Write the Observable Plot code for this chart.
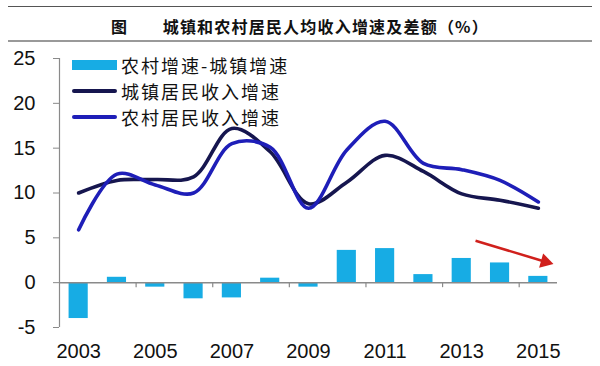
<!DOCTYPE html>
<html>
<head>
<meta charset="utf-8">
<script src="https://cdn.jsdelivr.net/npm/d3@7"></script>
<script src="https://cdn.jsdelivr.net/npm/@observablehq/plot@0.6"></script>
<style>
  html, body { margin: 0; padding: 0; background: #fff; }
  #wrap { position: relative; width: 600px; height: 366px; overflow: hidden; font-family: "Liberation Sans", Arial, sans-serif; }
  .rule-top { position: absolute; left: 8px; width: 584px; top: 6px; height: 0; border-top: 1px solid #555; }
  .rule-bot { position: absolute; left: 8px; width: 584px; top: 40px; height: 0; border-top: 2px solid #999; }
  #title { position: absolute; left: 0; width: 600px; top: 15px; text-align: center; font-family: "Noto Sans CJK SC", sans-serif; font-size: 16px; font-weight: 600; letter-spacing: 1.2px; color: #111; line-height: 22px; }
  #chart { position: absolute; left: 0; top: 44px; }
  .leg { position: absolute; font-family: "Noto Sans CJK SC", sans-serif; font-size: 18px; letter-spacing: 2px; color: #111; line-height: 18px; white-space: nowrap; }
  .sw { position: absolute; }
</style>
</head>
<body>
<div id="wrap">
  <div class="rule-top"></div>
  <div id="title"></div>
  <div class="rule-bot"></div>
  <div id="chart"></div>
  <div id="legend"></div>
</div>
<script>
// ---- data ----
const years = [2003, 2004, 2005, 2006, 2007, 2008, 2009, 2010, 2011, 2012, 2013, 2014, 2015];
const diffGrowth = [-4.0, 0.6, -0.5, -1.8, -1.7, 0.5, -0.5, 3.6, 3.8, 0.9, 2.7, 2.2, 0.7];
const urbanGrowth = [10.0, 11.4, 11.5, 11.8, 17.2, 14.6, 8.8, 11.2, 14.2, 12.4, 9.9, 9.2, 8.3];
const ruralGrowth = [5.9, 12.1, 10.9, 10.0, 15.5, 15.1, 8.3, 14.8, 18.0, 13.3, 12.6, 11.4, 9.0];
const yTicks = [-5, 0, 5, 10, 15, 20, 25];
const xLabelYears = [2003, 2005, 2007, 2009, 2011, 2013, 2015];
const xTickBoundaries = [2004.5, 2006.5, 2008.5, 2010.5, 2012.5, 2014.5];
const xDomain = [2002.5, 2015.5];
const yDomain = [-5, 25];
const trendArrow = [{x1: 2013.36, y1: 4.68, x2: 2015.18, y2: 2.34}];
const titleText = "图\u3000\u3000城镇和农村居民人均收入增速及差额（%）";
const seriesNames = ["农村增速-城镇增速", "城镇居民收入增速", "农村居民收入增速"];

const colors = { bar: "#17ace4", urban: "#16164f", rural: "#1e1eb8", axis: "#8a8a8a", arrow: "#d0201c" };

const table = years.map((year, i) => ({ year, diff: diffGrowth[i], urban: urbanGrowth[i], rural: ruralGrowth[i] }));

document.getElementById("title").textContent = titleText;

const chart = Plot.plot({
  width: 600,
  height: 322,
  marginLeft: 59,
  marginRight: 43,
  marginTop: 14,
  marginBottom: 39,
  style: { fontFamily: "'Liberation Sans', Arial, sans-serif", fontSize: "20px", color: "#111", background: "transparent" },
  x: { type: "linear", domain: xDomain },
  y: { domain: yDomain },
  marks: [
    Plot.axisY(yTicks, { tickSize: 6, tickPadding: 18, stroke: colors.axis, fill: "#111", fontSize: 20, label: null, tickFormat: d => String(d) }),
    Plot.axisX(xLabelYears, { tickSize: 0, tickPadding: 16, fill: "#111", fontSize: 20, label: null, tickFormat: d => String(d) }),
    Plot.ruleX([xDomain[0]], { y1: yDomain[0], y2: yDomain[1], stroke: colors.axis, strokeWidth: 1.2 }),
    Plot.rectY(table, { x1: d => d.year - 0.25, x2: d => d.year + 0.25, y1: 0, y2: "diff", fill: colors.bar }),
    Plot.ruleY([0], { stroke: colors.axis, strokeWidth: 1.5 }),
    Plot.ruleX(xTickBoundaries, { y1: 0, y2: 0, insetBottom: -5, stroke: colors.axis, strokeWidth: 1.2 }),
    Plot.line(table, { x: "year", y: "urban", curve: "catmull-rom", stroke: colors.urban, strokeWidth: 3.6 }),
    Plot.line(table, { x: "year", y: "rural", curve: "catmull-rom", stroke: colors.rural, strokeWidth: 3.6 }),
    Plot.link(trendArrow, { x1: "x1", y1: "y1", x2: "x2", y2: "y2", stroke: colors.arrow, strokeWidth: 2.5 }),
    Plot.dot(trendArrow, { x: "x2", y: "y2", symbol: "triangle", r: 5.5, rotate: 106, fill: colors.arrow, stroke: "none" })
  ]
});
document.getElementById("chart").appendChild(chart);

// legend
const legend = document.getElementById("legend");
const legRows = [
  { name: seriesNames[0], kind: "bar", color: colors.bar, cy: 65 },
  { name: seriesNames[1], kind: "line", color: colors.urban, cy: 91 },
  { name: seriesNames[2], kind: "line", color: colors.rural, cy: 117 }
];
for (const r of legRows) {
  const sw = document.createElement("div");
  sw.className = "sw";
  sw.style.left = "72px";
  sw.style.width = "45px";
  if (r.kind === "bar") { sw.style.top = (r.cy - 5) + "px"; sw.style.height = "10px"; }
  else { sw.style.top = (r.cy - 2) + "px"; sw.style.height = "4px"; sw.style.borderRadius = "2px"; }
  sw.style.background = r.color;
  legend.appendChild(sw);
  const t = document.createElement("div");
  t.className = "leg";
  t.style.left = "121px";
  t.style.top = (r.cy - 9) + "px";
  t.textContent = r.name;
  legend.appendChild(t);
}
</script>
</body>
</html>
